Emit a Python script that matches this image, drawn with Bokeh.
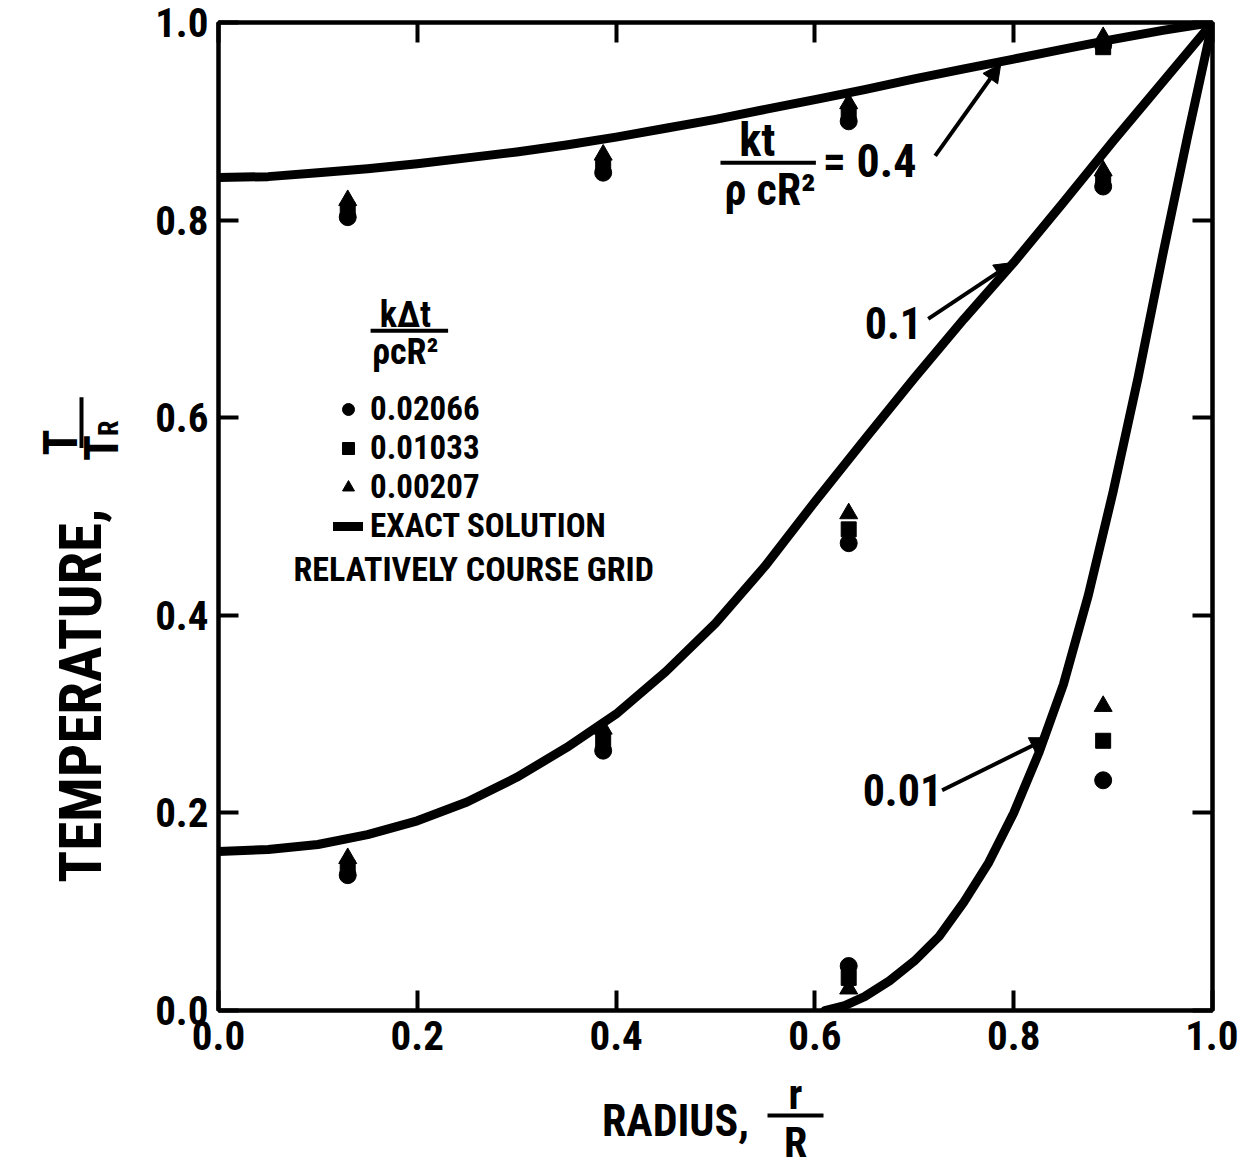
from bokeh.plotting import figure
from bokeh.layouts import column, row
from bokeh.models import (Range1d, FixedTicker, Label, Arrow, NormalHead, LinearAxis,
                          Legend, LegendItem, PrintfTickFormatter, Grid)
from bokeh.core.properties import value
from bokeh.embed import file_html
from bokeh.resources import INLINE

# ---------------- data ----------------
tick_vals = [0.0, 0.2, 0.4, 0.6, 0.8, 1.0]

# exact solutions, T/T_R versus r/R
r_exact = [0.0, 0.05, 0.1, 0.15, 0.2, 0.25, 0.3, 0.35, 0.4, 0.45, 0.5,
           0.55, 0.6, 0.65, 0.7, 0.75, 0.8, 0.85, 0.9, 0.95, 1.0]
T_exact_04 = [0.843, 0.844, 0.848, 0.852, 0.857, 0.863, 0.869, 0.876, 0.884, 0.893, 0.902,
              0.912, 0.922, 0.932, 0.943, 0.953, 0.963, 0.973, 0.983, 0.992, 1.0]
T_exact_01 = [0.161, 0.163, 0.168, 0.178, 0.192, 0.211, 0.236, 0.266, 0.300, 0.343, 0.392,
              0.450, 0.515, 0.578, 0.640, 0.700, 0.757, 0.818, 0.880, 0.940, 1.0]
r_exact_001 = [0.61, 0.63, 0.65, 0.675, 0.70, 0.725, 0.75, 0.775, 0.80, 0.825, 0.85,
               0.875, 0.90, 0.925, 0.95, 0.975, 1.0]
T_exact_001 = [0.0, 0.005, 0.014, 0.030, 0.050, 0.075, 0.110, 0.150, 0.200, 0.260, 0.330,
               0.420, 0.525, 0.640, 0.765, 0.885, 1.0]

# numerical (coarse grid) node radii
r_nodes = [0.13, 0.387, 0.634, 0.89]
nan = float("nan")
# step k*dt/(rho c R^2) = 0.02066 (circles)
circ_04 = [0.803, 0.848, 0.900, 0.977]
circ_01 = [0.137, 0.263, 0.473, 0.834]
circ_001 = [nan, nan, 0.045, 0.233]
# step 0.01033 (squares)
sq_04 = [0.810, 0.855, 0.908, 0.975]
sq_01 = [0.144, 0.273, 0.487, 0.840]
sq_001 = [nan, nan, 0.033, 0.273]
# step 0.00207 (triangles)
tri_04 = [0.820, 0.866, 0.918, 0.985]
tri_01 = [0.154, 0.285, 0.503, 0.850]
tri_001 = [nan, nan, 0.022, 0.308]

FONT = "Roboto Condensed"

# ---------------- geometry ----------------
LEFT_W = 150
BL, BR, BT, BB = 68, 26, 22, 58
FW, FH = 994, 988
MAIN_H = BT + FH + BB
TOTAL_W = LEFT_W + BL + FW + BR
PAGE_H = 1169
BOTTOM_H = PAGE_H - MAIN_H

# ---------------- main plot ----------------
p = figure(frame_width=FW, frame_height=FH,
           x_range=Range1d(0, 1), y_range=Range1d(0, 1),
           output_backend="svg", toolbar_location=None,
           x_axis_location=None, y_axis_location=None,
           min_border_left=BL, min_border_right=BR,
           min_border_top=BT, min_border_bottom=BB)
p.outline_line_color = "black"
p.outline_line_width = 4
p.background_fill_color = "white"
p.border_fill_color = "white"
p.renderers = [r for r in p.renderers if not isinstance(r, Grid)]
p.center = [c for c in p.center if not isinstance(c, Grid)]


def style_axis(ax, show_labels):
    ax.ticker = FixedTicker(ticks=tick_vals)
    ax.formatter = PrintfTickFormatter(format="%.1f")
    ax.major_tick_in = 20
    ax.major_tick_out = 0
    ax.minor_tick_in = 0
    ax.minor_tick_out = 0
    ax.axis_line_width = 4
    ax.axis_line_color = "black"
    ax.major_tick_line_width = 4
    ax.major_tick_line_color = "black"
    ax.major_label_text_font = FONT
    ax.major_label_text_font_style = "bold"
    ax.major_label_text_color = "black"
    ax.major_label_text_font_size = "41px"
    ax.major_label_standoff = 10
    if not show_labels:
        ax.major_label_overrides = {v: "" for v in tick_vals}
        ax.major_label_standoff = 0


for loc, show in (("below", True), ("left", True), ("above", False), ("right", False)):
    ax = LinearAxis()
    style_axis(ax, show)
    p.add_layout(ax, loc)

# exact solution curves
line_kw = dict(line_color="black", line_width=9, line_join="round", line_cap="round")
l04 = p.line(r_exact, T_exact_04, **line_kw)
l01 = p.line(r_exact, T_exact_01, **line_kw)
l001 = p.line(r_exact_001, T_exact_001, **line_kw)

# numerical points
MS = 17
mk = dict(fill_color="black", line_color="black")
rc = [p.scatter(r_nodes, ys, marker="circle", size=MS, **mk) for ys in (circ_04, circ_01, circ_001)][0]
rs = [p.scatter(r_nodes, ys, marker="square", size=MS - 2, **mk) for ys in (sq_04, sq_01, sq_001)][0]
rt = [p.scatter(r_nodes, ys, marker="triangle", size=MS + 1, **mk) for ys in (tri_04, tri_01, tri_001)][0]

legend = Legend(items=[LegendItem(label="0.02066", renderers=[rc]),
                       LegendItem(label="0.01033", renderers=[rs]),
                       LegendItem(label="0.00207", renderers=[rt]),
                       LegendItem(label="EXACT SOLUTION", renderers=[l04])],
                location=(115, 465), orientation="vertical",
                border_line_color=None, background_fill_alpha=0,
                padding=0, margin=0, spacing=0,
                glyph_width=30, glyph_height=36, label_height=36, label_standoff=7,
                label_text_font=FONT, label_text_font_style="bold",
                label_text_font_size="33px", label_text_color="black")
p.add_layout(legend)


def lab(x, y, text, size, align="center", style="bold"):
    p.add_layout(Label(x=x, y=y, text=text, text_font=FONT, text_font_size=f"{size}px",
                       text_font_style=style, text_align=align, text_baseline="middle",
                       text_color="black"))


def bar(x0, y0, x1, y1, w=4):
    p.add_layout(Arrow(x_start=x0, y_start=y0, x_end=x1, y_end=y1, end=None,
                       line_width=w, line_color="black"))


def arrow(x0, y0, x1, y1):
    p.add_layout(Arrow(x_start=x0, y_start=y0, x_end=x1, y_end=y1,
                       end=NormalHead(size=18, fill_color="black", line_color="black"),
                       line_width=4, line_color="black"))


# legend header  k dt / rho c R^2
lab(0.188, 0.704, "kΔt", 36)
bar(0.153, 0.688, 0.231, 0.688)
lab(0.188, 0.666, "ρcR²", 36)
lab(0.0755, 0.447, "RELATIVELY COURSE GRID", 34, align="left")

# curve labels
lab(0.542, 0.881, "kt", 46)
bar(0.505, 0.858, 0.601, 0.858)
lab(0.555, 0.830, "ρ cR²", 44)
lab(0.608, 0.860, "= 0.4", 46, align="left")
lab(0.679, 0.696, "0.1", 44)
lab(0.688, 0.223, "0.01", 44)

arrow(0.721, 0.865, 0.787, 0.958)
arrow(0.714, 0.700, 0.799, 0.757)
arrow(0.728, 0.223, 0.835, 0.276)

# ---------------- axis-title panels (coordinates = page pixels) ----------------


def panel(w, h, x0, x1, y0, y1):
    f = figure(width=w, height=h, x_range=Range1d(x0, x1), y_range=Range1d(-y1, -y0),
               output_backend="svg", toolbar_location=None,
               x_axis_location=None, y_axis_location=None,
               min_border_left=0, min_border_right=0, min_border_top=0, min_border_bottom=0)
    f.outline_line_color = None
    f.renderers = [r for r in f.renderers if not isinstance(r, Grid)]
    f.center = [c for c in f.center if not isinstance(c, Grid)]
    return f


def ptext(f, x, y, text, size, angle=0, align="center"):
    f.text([x], [-y], text=[text], text_font=value(FONT), text_font_size=value(f"{size}px"),
           text_font_style="bold", text_align=align, text_baseline="middle",
           text_color="black", angle=angle, angle_units="deg")


left = panel(LEFT_W, MAIN_H, 0, LEFT_W, 0, MAIN_H)
ptext(left, 80, 930, "TEMPERATURE,", 59, angle=90, align="left")
ptext(left, 60, 468, "T", 48, angle=90, align="left")
left.segment([81], [-405], [81], [-460], line_width=4, line_color="black")
ptext(left, 101, 474, "T", 48, angle=90, align="left")
ptext(left, 108, 447, "R", 28, angle=90, align="left")

bottom = panel(TOTAL_W, BOTTOM_H, 0, TOTAL_W, MAIN_H, PAGE_H)
ptext(bottom, 675, 1120, "RADIUS,", 44)
ptext(bottom, 795, 1094, "r", 42)
bottom.segment([767], [-1115], [823], [-1115], line_width=4, line_color="black")
ptext(bottom, 795, 1142, "R", 42)

layout = column(row(left, p), bottom)
open("out.html", "w").write(file_html(layout, INLINE))
